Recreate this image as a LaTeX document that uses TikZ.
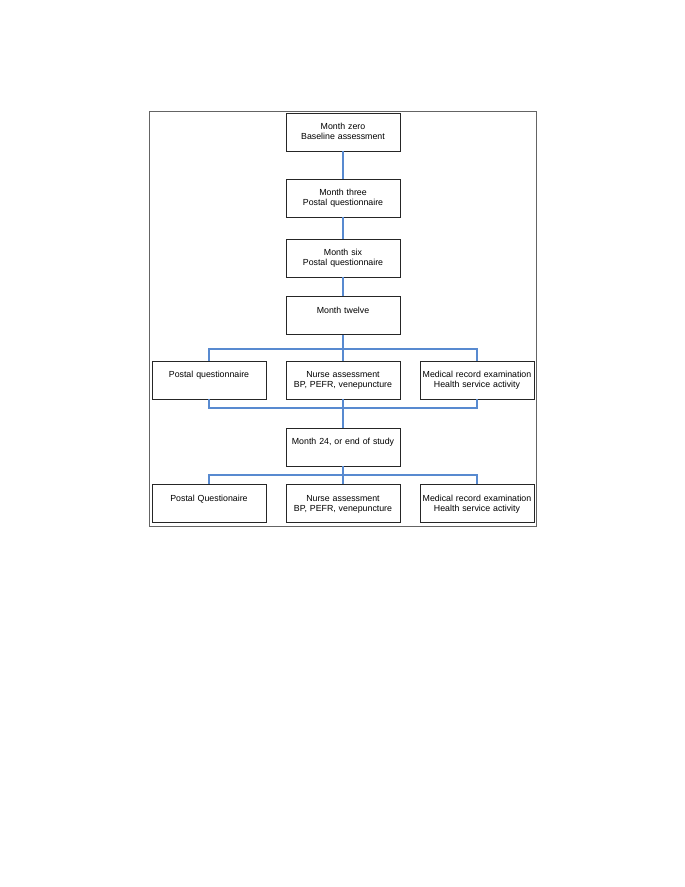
\documentclass[tikz,border=0pt]{standalone}
\usepackage{xcolor}
\usepackage{fontspec}
\setmainfont{Liberation Sans}
\usepackage{tikz}
\definecolor{linkblue}{RGB}{88,138,208}
\definecolor{framegray}{RGB}{100,100,100}

\begin{document}
\begin{tikzpicture}[x=1pt,y=-1pt,stage/.style={draw=black!85,line width=0.9pt,align=center,text width=112pt,inner xsep=1pt,inner ysep=0pt,text height=16.5pt,text depth=21.5pt,font=\fontsize{8.8}{10.3}\selectfont},link/.style={draw=linkblue,line width=1.1pt}]
\useasboundingbox (0,0) rectangle (685,887);
\draw[framegray,line width=0.9pt] (149,111) rectangle (536,526);
\node[stage] (m0) at (343,132) {Month zero\\Baseline assessment};
\node[stage] (m3) at (343,198) {Month three\\Postal questionnaire};
\node[stage] (m6) at (343,258) {Month six\\Postal questionnaire};
\node[stage] (m12) at (343,315.5) {Month twelve};
\node[stage] (postal1) at (209,380) {Postal questionnaire};
\node[stage] (nurse1) at (343,380) {Nurse assessment\\BP, PEFR, venepuncture};
\node[stage] (record1) at (477,380) {Medical record examination\\Health service activity};
\node[stage] (m24) at (343,447) {Month 24, or end of study};
\node[stage] (postal2) at (209,503.5) {Postal Questionaire};
\node[stage] (nurse2) at (343,503.5) {Nurse assessment\\BP, PEFR, venepuncture};
\node[stage] (record2) at (477,503.5) {Medical record examination\\Health service activity};
\coordinate (fork1) at (343,349);
\coordinate (join1) at (343,408);
\coordinate (fork2) at (343,475);
\draw[link] (m0) -- (m3);
\draw[link] (m3) -- (m6);
\draw[link] (m6) -- (m12);
\draw[link] (m12) -- (fork1) -- (nurse1);
\draw[link] (postal1) |- (fork1) -| (record1);
\draw[link] (postal1) |- (join1) -| (record1);
\draw[link] (nurse1) -- (join1) -- (m24);
\draw[link] (m24) -- (fork2) -- (nurse2);
\draw[link] (postal2) |- (fork2) -| (record2);
\end{tikzpicture}
\end{document}
